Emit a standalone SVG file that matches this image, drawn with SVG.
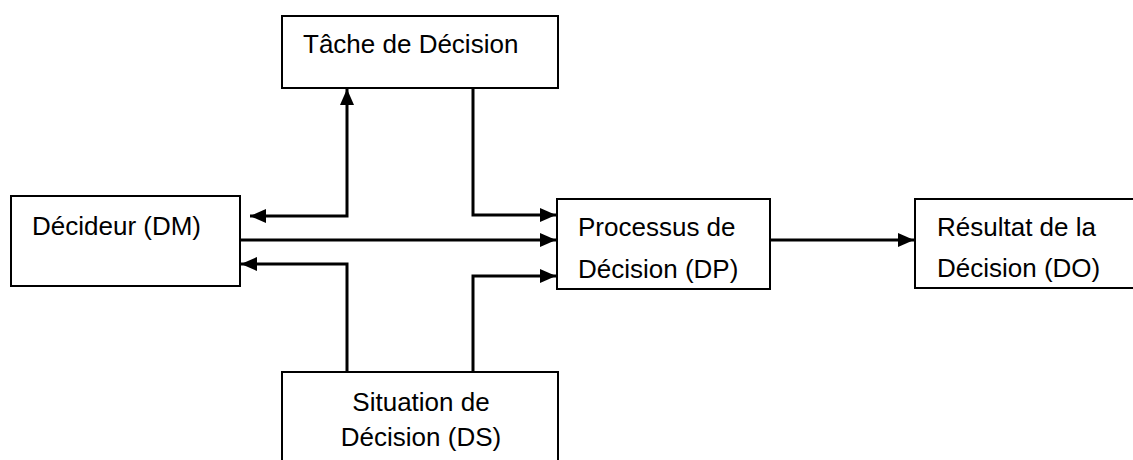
<svg xmlns="http://www.w3.org/2000/svg" width="1133" height="460" viewBox="0 0 1133 460">
  <style>
    .box { fill: #ffffff; stroke: #000000; stroke-width: 2; }
    .lbl { font-family: "Liberation Sans", Arial, sans-serif; font-size: 26px; fill: #000000; }
    .conn { fill: none; stroke: #000000; stroke-width: 3; }
  </style>
  <defs>
    <marker id="arrow" markerUnits="userSpaceOnUse" markerWidth="16" markerHeight="14" refX="16" refY="7" orient="auto-start-reverse">
      <path d="M0,0 L16,7 L0,14 z" fill="#000000"/>
    </marker>
  </defs>
  <rect width="1133" height="460" fill="#ffffff"/>

  <g id="connectors">
    <path class="conn" d="M250,216 H347 V89" marker-start="url(#arrow)" marker-end="url(#arrow)"/>
    <path class="conn" d="M473,88 V215 H556" marker-end="url(#arrow)"/>
    <path class="conn" d="M241,240 H556" marker-end="url(#arrow)"/>
    <path class="conn" d="M347,372 V264 H241" marker-end="url(#arrow)"/>
    <path class="conn" d="M473,372 V276 H556" marker-end="url(#arrow)"/>
    <path class="conn" d="M770,240 H914" marker-end="url(#arrow)"/>
  </g>

  <g id="tache">
    <rect class="box" x="282" y="16" width="276" height="72"/>
    <text class="lbl" x="303" y="53">Tâche de Décision</text>
  </g>

  <g id="decideur">
    <rect class="box" x="11" y="196" width="229" height="90"/>
    <text class="lbl" x="32" y="235">Décideur (DM)</text>
  </g>

  <g id="processus">
    <rect class="box" x="557" y="199" width="213" height="90"/>
    <text class="lbl" x="578" y="236">Processus de</text>
    <text class="lbl" x="578" y="278">Décision (DP)</text>
  </g>

  <g id="resultat">
    <rect class="box" x="915" y="199" width="230" height="89"/>
    <text class="lbl" x="937" y="236">Résultat de la</text>
    <text class="lbl" x="937" y="277">Décision (DO)</text>
  </g>

  <g id="situation">
    <rect class="box" x="282" y="372" width="276" height="100"/>
    <text class="lbl" x="421" y="411" text-anchor="middle">Situation de</text>
    <text class="lbl" x="421" y="446" text-anchor="middle">Décision (DS)</text>
  </g>
</svg>
